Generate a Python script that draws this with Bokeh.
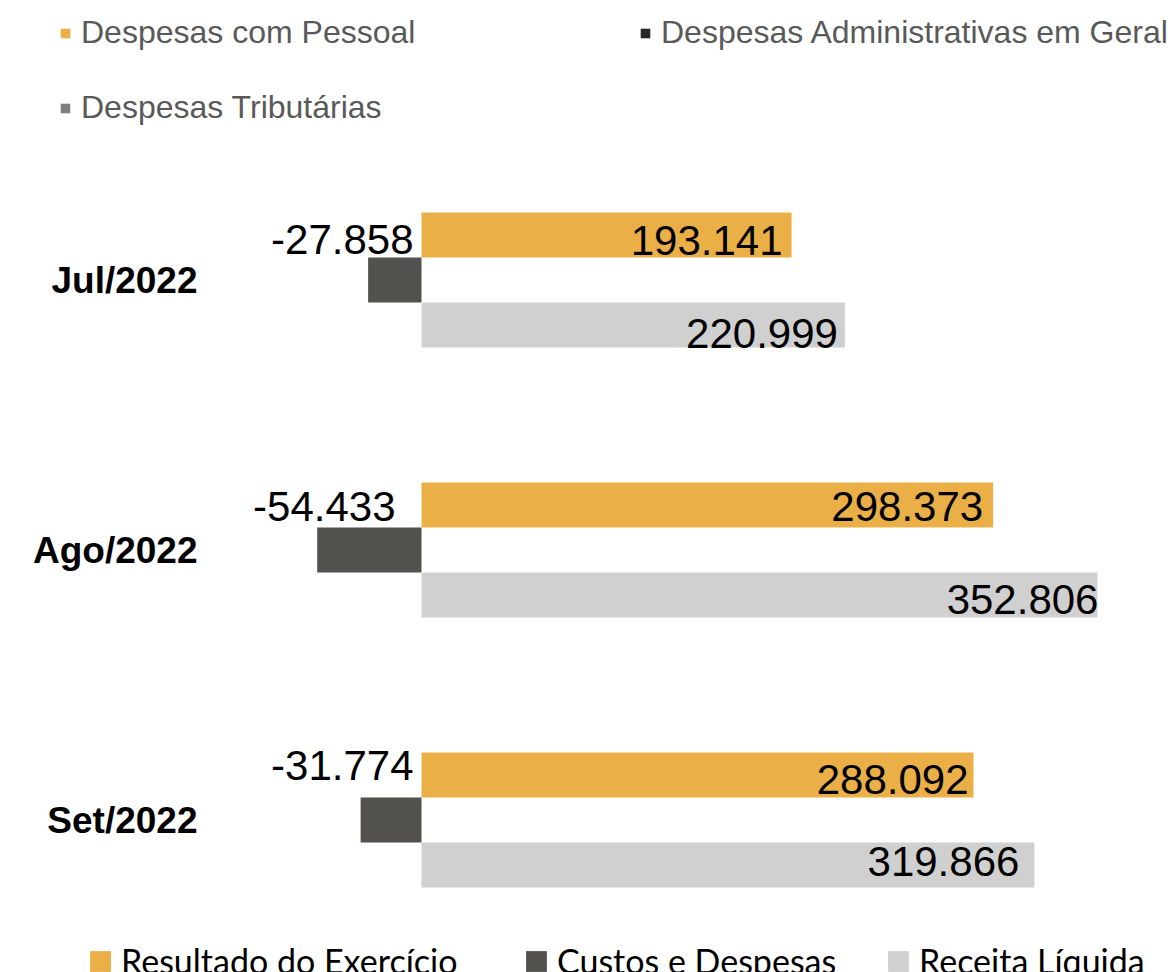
from bokeh.plotting import figure
from bokeh.models import ColumnDataSource, Range1d, Legend, LegendItem
from bokeh.transform import dodge
from bokeh.core.properties import value
from bokeh.embed import file_html
from bokeh.resources import INLINE

# ---- data ----
categories = ["Jul/2022", "Ago/2022", "Set/2022"]
resultado = [193141, 298373, 288092]      # Resultado do Exercício
custos = [-27858, -54433, -31774]         # Custos e Despesas
receita = [220999, 352806, 319866]        # Receita Líquida

top_legend_labels = ["Despesas com Pessoal", "Despesas Administrativas em Geral", "Despesas Tributárias"]
bottom_legend_labels = ["Resultado do Exercício", "Custos e Despesas", "Receita Líquida"]

# ---- styles ----
C_ORANGE = "#EBAF47"
C_DARK = "#53514E"
C_LIGHT = "#D0D0D0"
TOP_COLORS = ["#EBAF47", "#262626", "#7F7F7F"]

W, H = 1172, 972
PX_PER_UNIT_X = 1.916 / 1000.0
ZERO_PX = 421
PX_PER_GROUP = 270.0
FIRST_GROUP_PX = 279.5

def fmt(v):
    return f"{v:,}".replace(",", ".")

idx = list(range(len(categories)))
src = ColumnDataSource(dict(
    idx=idx,
    cat=categories,
    resultado=resultado,
    custos=custos,
    receita=receita,
    zero=[0] * len(categories),
    res_lbl=[fmt(v) for v in resultado],
    cus_lbl=[fmt(v) for v in custos],
    rec_lbl=[fmt(v) for v in receita],
    # per-label fine offsets (pixels)
    res_dx=[-9, -10, -5], res_dy=[5, 1, 4],
    rec_dx=[-7, 1, -15], rec_dy=[8, 4, -4],
    cus_dx=[-8, -26, -8], cus_dy=[4, 1, -10],
))

x_start = -ZERO_PX / PX_PER_UNIT_X
x_end = (W - ZERO_PX) / PX_PER_UNIT_X
y_top = -FIRST_GROUP_PX / PX_PER_GROUP
y_bottom = (H - FIRST_GROUP_PX) / PX_PER_GROUP

p = figure(width=W, height=H, output_backend="svg", toolbar_location=None,
           x_range=Range1d(x_start, x_end), y_range=Range1d(y_bottom, y_top),
           x_axis_location=None, y_axis_location=None, min_border=0,
           outline_line_color=None, tools="")
p.grid.visible = False
p.background_fill_color = "white"
p.border_fill_color = "white"

BH = 45.0 / PX_PER_GROUP
r_res = p.hbar(y=dodge("idx", -BH, range=p.y_range), left="zero", right="resultado",
               height=BH, source=src, fill_color=C_ORANGE, line_color=None)
r_cus = p.hbar(y=dodge("idx", 0, range=p.y_range), left="zero", right="custos",
               height=BH, source=src, fill_color=C_DARK, line_color=None)
r_rec = p.hbar(y=dodge("idx", BH, range=p.y_range), left="zero", right="receita",
               height=BH, source=src, fill_color=C_LIGHT, line_color=None)

LBL_FONT = value("Liberation Sans")
p.text(x="resultado", y=dodge("idx", -BH, range=p.y_range), text="res_lbl", source=src,
       x_offset="res_dx", y_offset="res_dy", text_align="right", text_baseline="middle",
       text_font=LBL_FONT, text_font_size="42px", text_color="black")
p.text(x="receita", y=dodge("idx", BH, range=p.y_range), text="rec_lbl", source=src,
       x_offset="rec_dx", y_offset="rec_dy", text_align="right", text_baseline="middle",
       text_font=LBL_FONT, text_font_size="42px", text_color="black")
p.text(x="zero", y=dodge("idx", -BH, range=p.y_range), text="cus_lbl", source=src,
       x_offset="cus_dx", y_offset="cus_dy", text_align="right", text_baseline="middle",
       text_font=LBL_FONT, text_font_size="42px", text_color="black")

# category labels
p.text(x="zero", y="idx", text="cat", source=src, x_offset=-224, y_offset=0,
       text_align="right", text_baseline="middle", text_font=LBL_FONT,
       text_font_size="37px", text_font_style="bold", text_color="black")

# top legend (entries of a companion chart) -- zero-width placeholder renderers
top_r = []
for c in TOP_COLORS:
    top_r.append(p.hbar(y="idx", left="zero", right="zero", height=0.01, source=src,
                        fill_color=c, line_color=None))

def mk_legend(label, rend, loc, gsize, font, fsize, color, standoff):
    lg = Legend(items=[LegendItem(label=label, renderers=[rend])], location=loc,
                orientation="horizontal", glyph_width=gsize, glyph_height=gsize,
                label_standoff=standoff, padding=0, margin=0, spacing=0,
                border_line_color=None, background_fill_alpha=0,
                label_text_font=font, label_text_font_size=fsize,
                label_text_color=color)
    p.add_layout(lg)

top_locs = [(59, 921), (639, 921), (59, 846)]
for lab, r, loc in zip(top_legend_labels, top_r, top_locs):
    mk_legend(lab, r, loc, 12, "Liberation Sans", "32px", "#595959", 10)

bot_locs = [(87, -9), (523, -9), (885, -9)]
for lab, r, loc in zip(bottom_legend_labels, [r_res, r_cus, r_rec], bot_locs):
    mk_legend(lab, r, loc, 26, "Lato", "34px", "black", 8)

open("out.html", "w").write(file_html(p, INLINE))
